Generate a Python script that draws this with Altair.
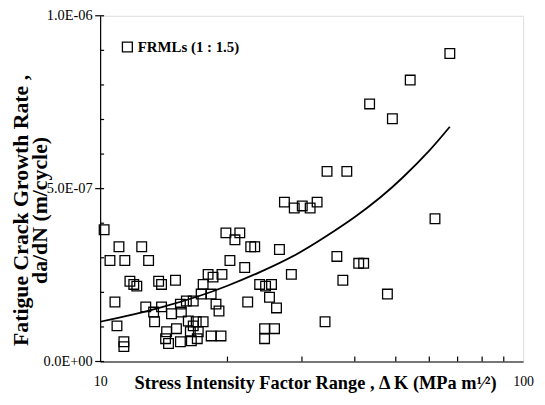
import altair as alt
import pandas as pd
import numpy as np

# --- data ---
series_name = "FRMLs (1 : 1.5)"
dk = [10.22, 11.08, 12.54, 10.55, 11.44, 13.02, 11.76, 12.01, 12.21, 13.75, 13.97, 15.07, 10.84, 10.96, 11.38, 11.38,
      12.82, 13.38, 13.45, 13.97, 14.75, 15.48, 15.99, 16.60, 15.56, 16.16, 16.60, 14.36, 14.51, 14.28, 15.15, 15.48, 16.34, 16.43,
      18.30, 16.87, 17.52, 17.06, 16.97, 19.31, 17.33, 18.30, 17.52, 18.00, 18.49, 19.41, 18.79, 19.10,
      19.83, 20.83, 21.39, 22.70, 23.20, 20.27, 21.97, 22.33, 26.54, 23.83, 24.61, 25.42, 25.14, 26.12, 24.48, 25.84, 24.48, 28.32,
      27.27, 28.77, 30.05, 31.37, 32.58, 34.39, 38.30, 34.02, 36.28, 37.48, 40.86, 41.98, 47.77, 43.36, 49.08, 54.08, 67.10, 61.89]
rate_e7 = [3.81, 3.32, 3.32, 2.92, 2.92, 2.92, 2.32, 2.23, 2.18, 2.32, 2.23, 2.35, 1.72, 1.03, 0.57, 0.43,
           1.58, 1.43, 1.15, 1.58, 1.38, 1.66, 1.75, 1.75, 1.43, 1.17, 1.03, 0.86, 0.52, 0.66, 0.95, 0.57, 0.86, 0.60,
           0.74, 1.15, 1.15, 0.86, 0.66, 0.74, 1.95, 1.95, 2.23, 2.52, 2.44, 2.52, 1.66, 1.46,
           3.72, 3.52, 3.72, 3.32, 3.32, 2.92, 2.72, 1.72, 3.24, 2.23, 2.18, 2.23, 1.86, 1.55, 0.95, 0.95, 0.66, 2.52,
           4.61, 4.44, 4.50, 4.44, 4.61, 5.50, 5.50, 1.15, 3.04, 2.35, 2.84, 2.84, 1.95, 7.45, 7.02, 8.14, 8.91, 4.13]

curve_dk = [10, 12, 14, 17, 20, 24, 29, 34, 40, 46, 52, 60, 67.1]
curve_e7 = [1.15, 1.36, 1.57, 1.88, 2.19, 2.60, 3.09, 3.60, 4.18, 4.75, 5.33, 6.10, 6.79]

x_label_values = [10, 100]
x_minor_ticks = [20, 30, 40, 50, 60, 70, 80, 90]
y_tick_values = [0.0, 5e-7, 1e-6]
y_tick_labels = ["0.0E+00", "5.0E-07", "1.0E-06"]
y_minor_ticks = [1e-7, 2e-7, 3e-7, 4e-7, 6e-7, 7e-7, 8e-7, 9e-7]

FONT = "Liberation Serif"

pts = pd.DataFrame({"dk": dk, "rate": np.array(rate_e7) * 1e-7, "series": series_name})
curve = pd.DataFrame({"dk": curve_dk, "rate": np.array(curve_e7) * 1e-7})
xt = pd.DataFrame({"dk": x_minor_ticks})
ytm = pd.DataFrame({"rate": y_minor_ticks})
ytM = pd.DataFrame({"rate": y_tick_values})

label_expr = (f"datum.value < 2.5e-7 ? '{y_tick_labels[0]}' : "
              f"(datum.value < 7.5e-7 ? '{y_tick_labels[1]}' : '{y_tick_labels[2]}')")

xscale = alt.Scale(type="log", domain=[10, 100], nice=False)
yscale = alt.Scale(domain=[0, 1e-6], nice=False, zero=False)

xaxis = alt.Axis(values=x_label_values, format="d", ticks=False, grid=False,
                 domainColor="black", domainWidth=1.2, labelFont=FONT, labelFontSize=14,
                 labelColor="black", labelPadding=13, labelFlush=False,
                 title="Stress Intensity Factor Range , \u0394 K (MPa m\u00b9\u2044\u00b2)",
                 titleFont=FONT, titleFontSize=18.5, titleFontWeight="bold", titleColor="black",
                 titleY=12, titleX=217)
yaxis = alt.Axis(values=y_tick_values, labelExpr=label_expr, ticks=False, grid=False,
                 domainColor="black", domainWidth=1.2, labelFont=FONT, labelFontSize=14.5,
                 labelColor="black", labelPadding=8,
                 title=["Fatigue Crack Growth Rate ,", "da/dN (m/cycle)"],
                 titleFont=FONT, titleFontSize=22, titleFontWeight="bold", titleColor="black",
                 titleLineHeight=19, titleBaseline="top", titleX=-90, titleY=196, titleAngle=270)

scatter = alt.Chart(pts).mark_point(shape="square", filled=False, stroke="black",
                                    strokeWidth=1.3, size=95, opacity=1).encode(
    x=alt.X("dk:Q", scale=xscale, axis=xaxis),
    y=alt.Y("rate:Q", scale=yscale, axis=yaxis),
    shape=alt.Shape("series:N", scale=alt.Scale(range=["square"]),
                    legend=alt.Legend(orient="none", legendX=20, legendY=24, title=None,
                                      padding=0, symbolSize=100, symbolStrokeColor="black",
                                      symbolFillColor="white", symbolStrokeWidth=1.3,
                                      labelFont=FONT, labelFontSize=15, labelFontWeight="bold",
                                      labelColor="black", labelOffset=3)),
)

line = alt.Chart(curve).mark_line(color="black", strokeWidth=1.8, interpolate="natural").encode(
    x=alt.X("dk:Q", scale=xscale), y=alt.Y("rate:Q", scale=yscale))

xticks = alt.Chart(xt).mark_rule(color="black", strokeWidth=1.2).encode(
    x=alt.X("dk:Q", scale=xscale), y=alt.value(349), y2=alt.value(344))
yminor = alt.Chart(ytm).mark_rule(color="black", strokeWidth=1.2).encode(
    y=alt.Y("rate:Q", scale=yscale), x=alt.value(0), x2=alt.value(4))
ymajor = alt.Chart(ytM).mark_rule(color="black", strokeWidth=1.2).encode(
    y=alt.Y("rate:Q", scale=yscale), x=alt.value(-5), x2=alt.value(4))

chart = alt.layer(xticks, yminor, ymajor, line, scatter).properties(
    width=427, height=349,
    autosize=alt.AutoSizeParams(type="none"),
    padding={"left": 93, "top": 6, "right": 14, "bottom": 36},
).configure_view(stroke="black", strokeWidth=1.2).configure(background="white")

chart.save("out.html", embed_options={"renderer": "svg", "actions": False})
